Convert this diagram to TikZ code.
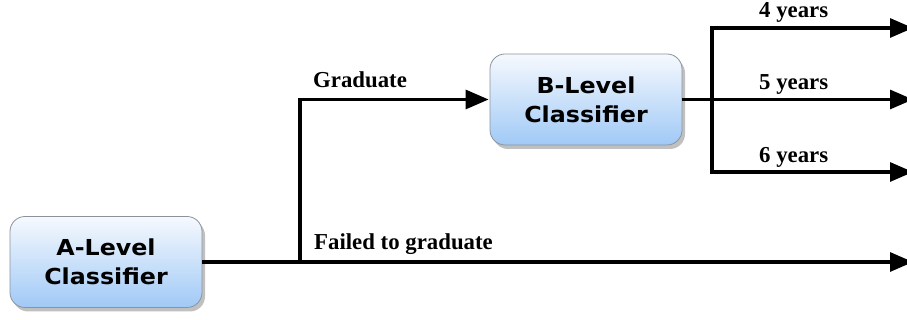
\documentclass[tikz,border=0pt]{standalone}
\usepackage{fontspec}
\usetikzlibrary{arrows.meta,shadows}
\newfontfamily\boxfont{DejaVu Sans}[FakeStretch=1.08]
\newfontfamily\labfont{Liberation Serif}
\definecolor{boxtop}{HTML}{F6F9FE}
\definecolor{boxbot}{HTML}{A0C9F6}
\definecolor{boxline}{HTML}{8C939C}
\tikzset{
  classbox/.style={draw=boxline, line width=0.8pt, rounded corners=15pt,
    top color=boxtop, bottom color=boxbot, minimum width=192pt, minimum height=91pt,
    align=center, font=\boxfont\bfseries\fontsize{22}{29}\selectfont,
    drop shadow={shadow xshift=3pt, shadow yshift=-4pt, fill=black!45, opacity=0.55}},
  conn/.style={line width=3.1pt},
  arr/.style={conn, -{Triangle[length=23pt,width=19pt]}},
  lab/.style={anchor=base west, inner sep=0pt, font=\labfont\bfseries\fontsize{22.8}{26}\selectfont}
}
\begin{document}
\begin{tikzpicture}[x=1pt,y=1pt]
\useasboundingbox (0,0) rectangle (907,320);
\node[classbox] (A) at (106,58) {A-Level\\Classifier};
\node[classbox] (B) at (586,220.5) {B-Level\\Classifier};
\coordinate (j1) at (300,58);
\coordinate (failEnd) at (913,58);
\coordinate (j2) at (712,220.5);
\coordinate (t4) at (712,292);
\coordinate (t6) at (712,148);
\coordinate (e4) at (913,292);
\coordinate (e5) at (913,220.5);
\coordinate (e6) at (913,148);
\draw[arr] (A.east) -- (failEnd);
\draw[arr] (j1) |- ([xshift=-1pt]B.west);
\draw[arr] (B.east) -- (e5);
\draw[conn] (t4) -- (t6);
\draw[arr] ([xshift=-1.55pt]t4) -- (e4);
\draw[arr] ([xshift=-1.55pt]t6) -- (e6);
\node[lab] (lg) at (313,232) {Graduate};
\node[lab] (lf) at (314,70) {Failed to graduate};
\node[lab] (l4) at (759,302) {4 years};
\node[lab] (l5) at (759,230) {5 years};
\node[lab] (l6) at (759,157) {6 years};
\end{tikzpicture}
\end{document}
